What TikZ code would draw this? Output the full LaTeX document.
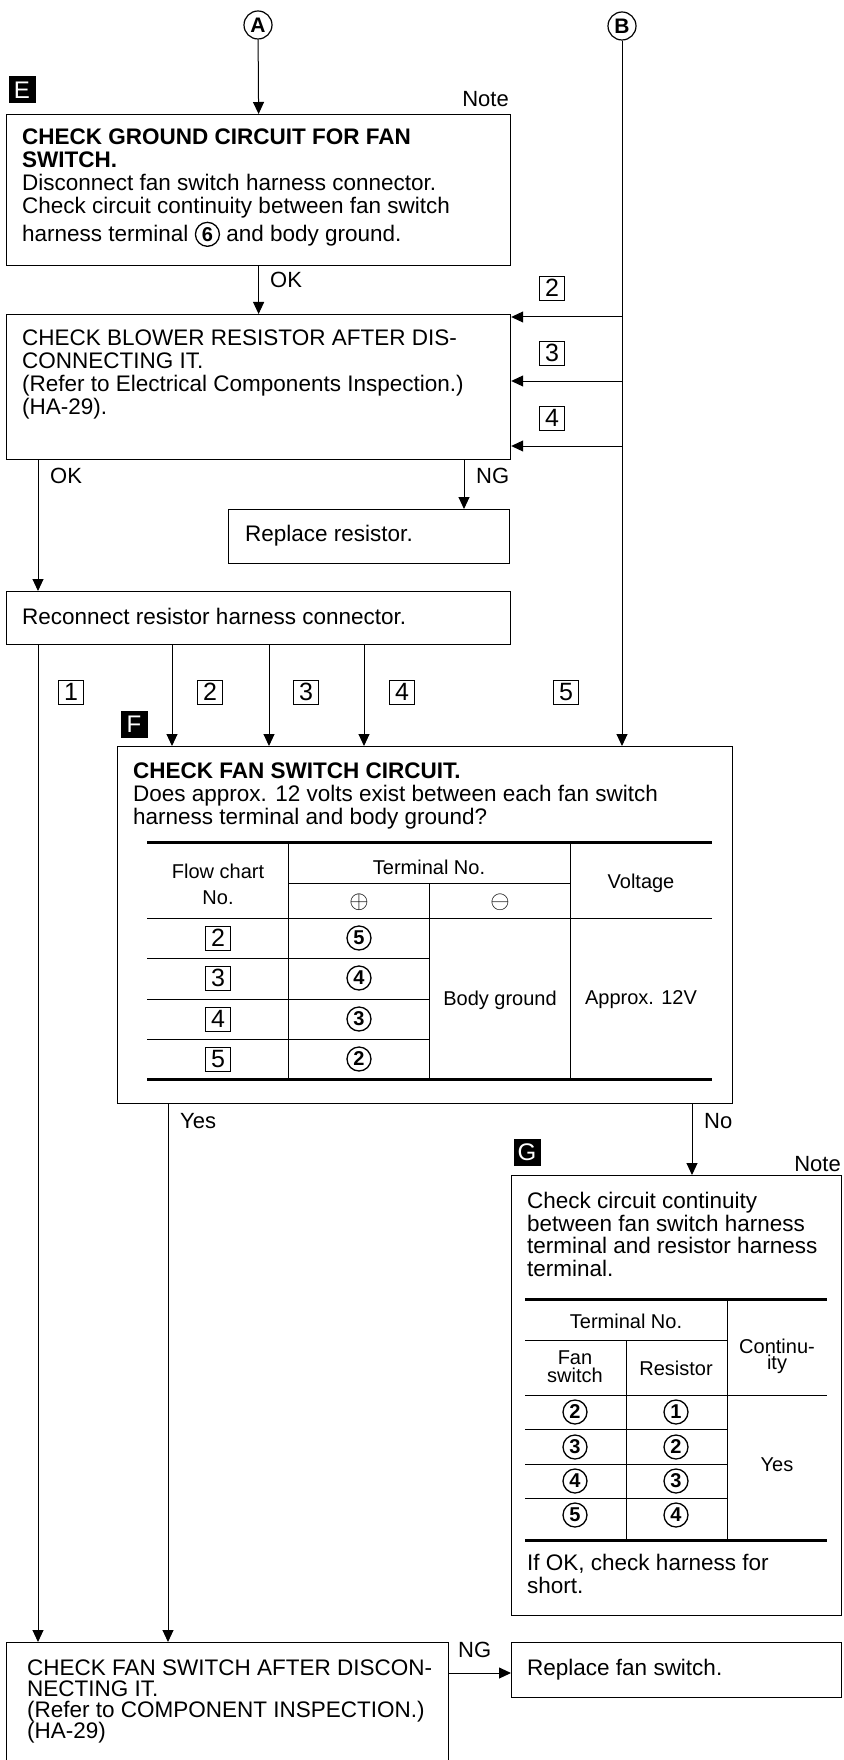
\documentclass[tikz,border=0pt]{standalone}
\usepackage{fontspec}
\setmainfont{Liberation Sans}
\usetikzlibrary{positioning, shapes, arrows.meta}
\tikzset{
  box/.style={draw, line width=1.2pt, anchor=north west, inner sep=0pt},
  txt/.style={anchor=north west, align=left, inner sep=0pt, font=\fontsize{22.5}{22.7}\selectfont},
  lbl/.style={inner sep=0pt, font=\fontsize{22}{22}\selectfont},
  sq/.style={draw, line width=0.9pt, minimum width=25pt, minimum height=24pt, inner sep=0pt, font=\fontsize{25}{25}\selectfont},
  cnum/.style={draw, circle, line width=1.3pt, minimum size=24pt, inner sep=0pt, font=\bfseries\fontsize{20}{20}\selectfont},
  conn/.style={draw, circle, line width=1.2pt, minimum size=28pt, inner sep=0pt, font=\bfseries\fontsize{21}{21}\selectfont},
  tag/.style={fill=black, text=white, minimum size=27pt, inner sep=0pt, font=\fontsize{24}{24}\selectfont},
  flow/.style={line width=1pt, -{Triangle[length=12pt, width=11pt]}},
  cell/.style={inner sep=0pt, align=center, font=\fontsize{20}{20}\selectfont},
  heavy/.style={line width=3pt},
  hrule/.style={line width=1pt}}
\newcommand{\cnumtext}[1]{\tikz[baseline=(c6.base)]\node[cnum, anchor=center] (c6) {#1};}

\begin{document}
\begin{tikzpicture}[x=1pt, y=-1pt]
\useasboundingbox (0,0) rectangle (843,1760);
\clip (0,0) rectangle (843,1760);

  \node[conn] (A) at (258,25) {A};
  \node[conn] (B) at (622,26) {B};

  \node[tag] (tagE) at (22,90) {E};
  \node[lbl, anchor=east] (noteE) at (509,99) {Note};
  \node[box, minimum width=504pt, minimum height=151pt] (gnd) at (6,114) {};
    \node[txt] (gndtxt) at (22,129) {\textbf{CHECK GROUND CIRCUIT FOR FAN}\\\textbf{SWITCH.}\\Disconnect fan switch harness connector.\\Check circuit continuity between fan switch\\[3pt]harness terminal \cnumtext{6} and body ground.};

  \node[box, minimum width=504pt, minimum height=145pt] (res) at (6,314) {};
    \node[txt] (restxt) at (22,330) {CHECK BLOWER RESISTOR AFTER DIS-\\CONNECTING IT.\\(Refer to Electrical Components Inspection.)\\(HA-29).};
  \node[box, minimum width=281pt, minimum height=54pt] (rep) at (228,509) {};
    \node[txt, anchor=base west] (reptxt) at (245,541) {Replace resistor.};
  \node[box, minimum width=504pt, minimum height=53pt] (rec) at (6,591) {};
    \node[txt, anchor=base west] (rectxt) at (22,624) {Reconnect resistor harness connector.};

  \node[tag] (tagF) at (134,724) {F};
  \node[box, minimum width=615pt, minimum height=357pt] (fan) at (117,746) {};
    \node[txt] (fantxt) at (133,763) {\textbf{CHECK FAN SWITCH CIRCUIT.}\\Does approx. 12 volts exist between each fan switch\\harness terminal and body ground?};

  \node[tag] (tagG) at (527,1152) {G};
  \node[lbl, anchor=east] (noteG) at (841,1164) {Note};
  \node[box, minimum width=330pt, minimum height=440pt] (cont) at (511,1175) {};
    \node[txt] (conttxt) at (527,1192) {Check circuit continuity\\between fan switch harness\\terminal and resistor harness\\terminal.};
    \node[txt] (shorttxt) at (527,1554) {If OK, check harness for\\short.};

  \node[box, minimum width=442pt, minimum height=200pt] (sw) at (6,1642) {};
    \node[txt, font=\fontsize{22.5}{21}\selectfont] (swtxt) at (27,1660) {CHECK FAN SWITCH AFTER DISCON-\\NECTING IT.\\(Refer to COMPONENT INSPECTION.)\\(HA-29)};
  \node[box, minimum width=330pt, minimum height=55pt] (rsw) at (511,1642) {};
    \node[txt, anchor=base west] (rswtxt) at (527,1675) {Replace fan switch.};

  \draw[flow] (A) -- (gnd.north);
  \draw[flow] (gnd.south) -- (res.north);
    \node[lbl, anchor=west] (ok1) at (270,280) {OK};

  \draw[flow] (B) -- (B |- fan.north);
  \coordinate (b2) at (622,317);
  \coordinate (b3) at (622,381);
  \coordinate (b4) at (622,446);
  \draw[flow] (b2) -- (b2 -| res.east);
  \draw[flow] (b3) -- (b3 -| res.east);
  \draw[flow] (b4) -- (b4 -| res.east);
    \node[sq] (q2r) at (552,288) {2};
    \node[sq] (q3r) at (552,353) {3};
    \node[sq] (q4r) at (552,418) {4};

  \coordinate (okl) at (38,459);
  \draw[flow] (okl) -- (okl |- rec.north);
    \node[lbl, anchor=west] (ok2) at (50,476) {OK};
  \coordinate (ngl) at (464,459);
  \draw[flow] (ngl) -- (ngl |- rep.north);
    \node[lbl, anchor=west] (ng1) at (476,476) {NG};

  \coordinate (r1) at (38,644);
  \coordinate (r2) at (172,644);
  \coordinate (r3) at (269,644);
  \coordinate (r4) at (364,644);
  \draw[flow] (r1) -- (r1 |- sw.north);
  \draw[flow] (r2) -- (r2 |- fan.north);
  \draw[flow] (r3) -- (r3 |- fan.north);
  \draw[flow] (r4) -- (r4 |- fan.north);
    \node[sq] (q1) at (71,692) {1};
    \node[sq] (q2) at (210,692) {2};
    \node[sq] (q3) at (306,692) {3};
    \node[sq] (q4) at (402,692) {4};
    \node[sq] (q5) at (566,692) {5};

  \coordinate (yes) at (168,1103);
  \draw[flow] (yes) -- (yes |- sw.north);
    \node[lbl, anchor=west] (yeslbl) at (180,1121) {Yes};
  \coordinate (no) at (692,1103);
  \draw[flow] (no) -- (no |- cont.north);
    \node[lbl, anchor=west] (nolbl) at (704,1121) {No};

  \coordinate (ng2) at (448,1673);
  \draw[flow] (ng2) -- (ng2 -| rsw.west);
    \node[lbl, anchor=west] (ng3) at (458,1650) {NG};

  \draw[heavy] (147,842) -- (712,842) (147,1079) -- (712,1079);
  \draw[hrule] (288,842) -- (288,1079) (570,842) -- (570,1079) (429,883) -- (429,1079);
  \draw[hrule] (288,883) -- (570,883) (147,918) -- (712,918);
  \draw[hrule] (147,958) -- (429,958) (147,999) -- (429,999) (147,1039) -- (429,1039);
    \node[cell, font=\fontsize{20}{26}\selectfont] (hflow) at (218,884) {Flow chart\\No.};
    \node[cell] (hterm) at (429,867) {Terminal No.};
    \node[cell, font=\fontsize{30}{30}\selectfont] (hplus) at (359,902) {$\oplus$};
    \node[cell, font=\fontsize{30}{30}\selectfont] (hminus) at (500,902) {$\ominus$};
    \node[cell] (hvolt) at (641,883) {Voltage};
    \node[sq] (t2) at (218,938) {2};
    \node[sq] (t3) at (218,978) {3};
    \node[sq] (t4) at (218,1019) {4};
    \node[sq] (t5) at (218,1059) {5};
    \node[cnum] (p5) at (359,938) {5};
    \node[cnum] (p4) at (359,978) {4};
    \node[cnum] (p3) at (359,1019) {3};
    \node[cnum] (p2) at (359,1059) {2};
    \node[cell] (body) at (500,1000) {Body ground};
    \node[cell] (volt) at (641,1000) {Approx. 12V};

  \draw[heavy] (525,1299) -- (827,1299) (525,1540) -- (827,1540);
  \draw[hrule] (727,1299) -- (727,1540) (626,1340) -- (626,1540);
  \draw[hrule] (525,1340) -- (727,1340) (525,1395) -- (827,1395);
  \draw[hrule] (525,1429) -- (727,1429) (525,1464) -- (727,1464) (525,1498) -- (727,1498);
    \node[cell] (gterm) at (626,1321) {Terminal No.};
    \node[cell, font=\fontsize{20}{18}\selectfont] (gfan) at (575,1367) {Fan\\switch};
    \node[cell] (gres) at (676,1368) {Resistor};
    \node[cell, font=\fontsize{20}{16}\selectfont] (gcont) at (777,1356) {Continu-\\ity};
    \node[cnum] (fs2) at (575,1412) {2};
    \node[cnum] (fs3) at (575,1447) {3};
    \node[cnum] (fs4) at (575,1481) {4};
    \node[cnum] (fs5) at (575,1515) {5};
    \node[cnum] (rs1) at (676,1412) {1};
    \node[cnum] (rs2) at (676,1447) {2};
    \node[cnum] (rs3) at (676,1481) {3};
    \node[cnum] (rs4) at (676,1515) {4};
    \node[cell] (gyes) at (777,1465) {Yes};
\end{tikzpicture}
\end{document}
